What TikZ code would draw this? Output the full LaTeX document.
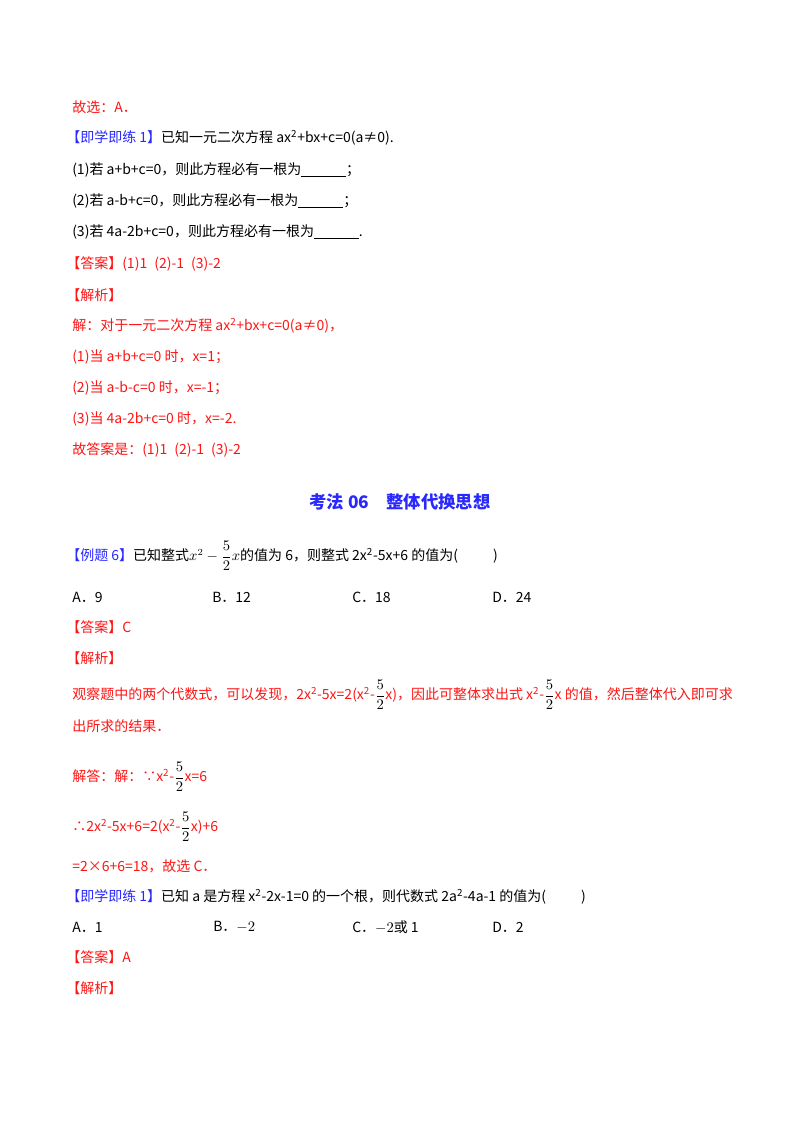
\documentclass[tikz,border=0pt]{standalone}
\usepackage{amsmath}
\usepackage{fontspec}
\setmainfont{Noto Sans CJK SC}
\definecolor{rd}{RGB}{255,20,20}
\definecolor{bl}{RGB}{40,40,255}
\newcommand{\bk}[1]{\textcolor{bl}{【#1】}}
\newcommand{\fr}{\ensuremath{\dfrac{5}{2}}}
\begin{document}
\begin{tikzpicture}[x=0.75pt,y=-0.75pt,
  t/.style={anchor=west,inner sep=0pt,font=\fontsize{10.5}{12}\selectfont},
  r/.style={t,text=rd}]
\useasboundingbox (0,0) rectangle (800,1132);
\node[r] (n1) at (72,107) {故选：A．};
\node[t] (n2) at (66,138) {\bk{即学即练 1}已知一元二次方程 ax\textsuperscript{2}+bx+c=0(a≠0).};
\node[t] (n3) at (72,170) {(1)若 a+b+c=0，则此方程必有一根为\underline{\hspace{3.2em}}；};
\node[t] (n4) at (72,201) {(2)若 a-b+c=0，则此方程必有一根为\underline{\hspace{3.2em}}；};
\node[t] (n5) at (72,232) {(3)若 4a-2b+c=0，则此方程必有一根为\underline{\hspace{3.2em}}.};
\node[r] (n6) at (66,264) {【答案】(1)1\enspace (2)-1\enspace (3)-2};
\node[r] (n7) at (66,295) {【解析】};
\node[r] (n8) at (72,326) {解：对于一元二次方程 ax\textsuperscript{2}+bx+c=0(a≠0)，};
\node[r] (n9) at (72,357) {(1)当 a+b+c=0 时，x=1；};
\node[r] (n10) at (72,388) {(2)当 a-b-c=0 时，x=-1；};
\node[r] (n11) at (72,419) {(3)当 4a-2b+c=0 时，x=-2.};
\node[r] (n12) at (72,450) {故答案是：(1)1\enspace (2)-1\enspace (3)-2};
\node[t,anchor=center,text=bl,font=\fontsize{13}{15}\selectfont\bfseries] (title) at (400,502) {考法 06\quad 整体代换思想};
\node[t] (e6) at (66,556) {\bk{例题 6}已知整式$x^{2}-\dfrac{5}{2}x$的值为 6，则整式 2x\textsuperscript{2}-5x+6 的值为(\hspace{2.5em})};
\node[t] (a1) at (72,597) {A．9};
\node[t] (b1) at (212,597) {B．12};
\node[t] (c1) at (352,597) {C．18};
\node[t] (d1) at (492,597) {D．24};
\node[r] (ans1) at (66,627) {【答案】C};
\node[r] (jx1) at (66,658) {【解析】};
\node[r] (p1) at (72,695) {观察题中的两个代数式，可以发现，2x\textsuperscript{2}-5x=2(x\textsuperscript{2}-\textcolor{black}{\fr}x)，因此可整体求出式 x\textsuperscript{2}-\textcolor{black}{\fr}x 的值，然后整体代入即可求};
\node[r] (p2) at (72,726) {出所求的结果．};
\node[r] (p3) at (72,777) {解答：解：∵x\textsuperscript{2}-\textcolor{black}{\fr}x=6};
\node[r] (p4) at (72,827) {∴2x\textsuperscript{2}-5x+6=2(x\textsuperscript{2}-\textcolor{black}{\fr}x)+6};
\node[r] (p5) at (72,866) {=2×6+6=18，故选 C．};
\node[t] (q) at (66,897) {\bk{即学即练 1}已知 a 是方程 x\textsuperscript{2}-2x-1=0 的一个根，则代数式 2a\textsuperscript{2}-4a-1 的值为(\hspace{2.5em})};
\node[t] (a2) at (72,927) {A．1};
\node[t] (b2) at (213,927) {B．$-2$};
\node[t] (c2) at (352,927) {C．$-2$或 1};
\node[t] (d2) at (492,927) {D．2};
\node[r] (ans2) at (66,957) {【答案】A};
\node[r] (jx2) at (66,988) {【解析】};
\end{tikzpicture}
\end{document}
